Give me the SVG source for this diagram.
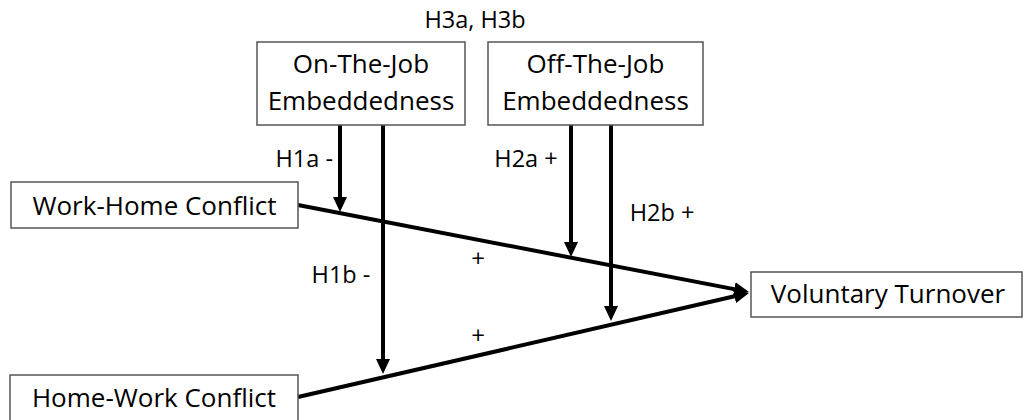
<svg xmlns="http://www.w3.org/2000/svg" width="1033" height="420" viewBox="0 0 1033 420">
<style>
  .box { fill: #ffffff; stroke: #555555; stroke-width: 1.5; }
  .t { font-family: "Open Sans", Lato, "Liberation Sans", sans-serif; fill: #000000; text-anchor: middle; }
  .big { font-size: 26px; }
  .lab { font-size: 23.5px; }
  .sm { font-size: 24px; }
  .conn { stroke: #000000; stroke-width: 4; fill: none; marker-end: url(#ah); }
</style>
<defs>
  <marker id="ah" markerUnits="userSpaceOnUse" markerWidth="15" markerHeight="14" refX="9" refY="7" orient="auto">
    <path d="M0,0 L15,7 L0,14 z" fill="#000000"/>
  </marker>
</defs>
<rect width="1033" height="420" fill="#ffffff"/>
<g id="connectors">
  <line class="conn" x1="298" y1="205" x2="743.1" y2="290.9"/>
  <line class="conn" x1="298" y1="397" x2="743.2" y2="294.3"/>
  <line class="conn" x1="340" y1="125" x2="340" y2="206"/>
  <line class="conn" x1="383" y1="125" x2="383" y2="368"/>
  <line class="conn" x1="571" y1="125" x2="571" y2="251"/>
  <line class="conn" x1="611" y1="125" x2="611" y2="315"/>
</g>
<g id="labels">
  <text class="t lab" x="475" y="28">H3a, H3b</text>
  <text class="t lab" x="333" y="167" style="text-anchor:end">H1a -</text>
  <text class="t lab" x="526" y="167">H2a +</text>
  <text class="t lab" x="662" y="221">H2b +</text>
  <text class="t lab" x="341" y="283">H1b -</text>
  <text class="t sm" x="478" y="267">+</text>
  <text class="t sm" x="478" y="344">+</text>
</g>
<g id="on-the-job">
  <rect class="box" x="257" y="42" width="208" height="83"/>
  <text class="t big" x="361" y="73">On-The-Job</text>
  <text class="t big" x="361" y="110">Embeddedness</text>
</g>
<g id="off-the-job">
  <rect class="box" x="488" y="42" width="215" height="83"/>
  <text class="t big" x="595.5" y="73">Off-The-Job</text>
  <text class="t big" x="595.5" y="110">Embeddedness</text>
</g>
<g id="work-home">
  <rect class="box" x="11" y="182" width="287" height="46"/>
  <text class="t big" x="154.5" y="215">Work-Home Conflict</text>
</g>
<g id="home-work">
  <rect class="box" x="10" y="375" width="288" height="46"/>
  <text class="t big" x="154" y="407">Home-Work Conflict</text>
</g>
<g id="voluntary-turnover">
  <rect class="box" x="751" y="272" width="271" height="45"/>
  <text class="t big" x="888" y="303">Voluntary Turnover</text>
</g>
</svg>
